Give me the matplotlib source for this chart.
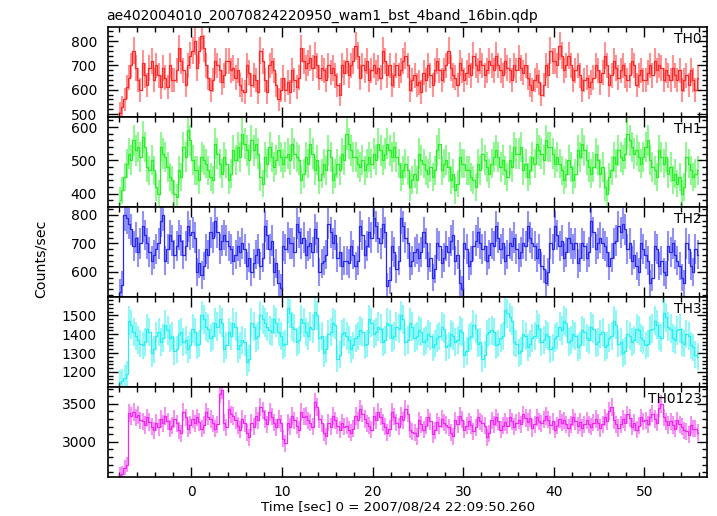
import numpy as np
import matplotlib
matplotlib.use("Agg")
import matplotlib.pyplot as plt
from matplotlib.ticker import MultipleLocator

plt.rcParams['font.family'] = ['DejaVu Sans']

title = "ae402004010_20070824220950_wam1_bst_4band_16bin.qdp"
xlabel = "Time [sec] 0 = 2007/08/24 22:09:50.260"
ylabel = "Counts/sec"
bin_size = 0.25
time = np.arange(-7.875, 56.0, bin_size)

th0 = [505, 530, 560, 610, 650, 700, 760, 690, 640, 600, 710, 660, 620, 690, 720, 640,
       700, 660, 610, 690, 650, 610, 700, 640, 640, 680, 770, 720, 680, 620, 700, 740,
       760, 800, 690, 760, 820, 770, 700, 650, 600, 640, 720, 700, 680, 630, 660, 720,
       720, 680, 690, 650, 680, 620, 600, 590, 700, 670, 620, 660, 640, 590, 760, 720,
       640, 590, 700, 720, 680, 620, 560, 600, 650, 600, 630, 590, 680, 640, 610, 650,
       770, 720, 690, 710, 730, 690, 740, 700, 650, 690, 680, 640, 700, 670, 690, 660,
       620, 580, 700, 670, 720, 660, 700, 720, 780, 740, 650, 700, 680, 720, 640, 680,
       700, 670, 690, 650, 760, 720, 660, 700, 620, 660, 700, 660, 680, 720, 740, 700,
       600, 640, 660, 620, 630, 590, 670, 640, 700, 660, 620, 680, 720, 680, 640, 680,
       700, 760, 690, 660, 650, 620, 710, 680, 640, 670, 700, 660, 740, 700, 680, 720,
       700, 660, 680, 720, 700, 680, 740, 700, 680, 660, 720, 690, 680, 640, 700, 680,
       730, 690, 670, 700, 650, 620, 600, 640, 660, 630, 580, 620, 700, 660, 760, 720,
       720, 700, 780, 740, 680, 700, 740, 700, 640, 680, 700, 660, 600, 640, 650, 610,
       630, 650, 700, 680, 630, 670, 740, 700, 620, 660, 720, 690, 650, 680, 700, 660,
       640, 660, 720, 700, 620, 660, 680, 640, 640, 670, 700, 660, 720, 680, 700, 690,
       640, 680, 660, 640, 690, 660, 640, 680, 600, 640, 660, 620, 680, 640, 600, 650]

th1 = [380, 410, 450, 490, 520, 500, 560, 530, 540, 510, 570, 540, 480, 470, 500, 470,
       420, 400, 540, 520, 510, 480, 450, 440, 400, 390, 470, 450, 540, 510, 590, 560,
       500, 470, 470, 440, 510, 500, 490, 470, 450, 440, 550, 520, 490, 460, 510, 490,
       440, 460, 530, 500, 540, 510, 580, 550, 530, 500, 560, 530, 550, 520, 450, 430,
       510, 490, 540, 510, 480, 500, 530, 510, 490, 510, 520, 500, 550, 520, 510, 500,
       440, 460, 510, 490, 550, 520, 470, 500, 440, 460, 490, 470, 530, 510, 440, 460,
       490, 470, 520, 500, 580, 550, 530, 510, 510, 490, 480, 500, 470, 490, 510, 490,
       520, 500, 550, 530, 500, 520, 550, 530, 510, 540, 510, 490, 450, 470, 490, 470,
       420, 440, 460, 440, 520, 500, 490, 470, 460, 480, 450, 470, 530, 550, 470, 490,
       500, 480, 440, 460, 410, 430, 510, 490, 490, 470, 470, 450, 440, 420, 490, 470,
       520, 500, 480, 460, 490, 510, 530, 510, 480, 500, 470, 450, 500, 480, 540, 520,
       520, 540, 470, 490, 450, 470, 510, 490, 550, 530, 520, 500, 560, 540, 540, 520,
       490, 510, 490, 470, 440, 460, 500, 480, 440, 460, 530, 510, 550, 530, 500, 480,
       460, 480, 520, 500, 460, 480, 420, 400, 450, 470, 510, 490, 530, 510, 500, 520,
       580, 560, 540, 520, 530, 510, 490, 510, 540, 560, 500, 480, 470, 450, 530, 510,
       490, 510, 460, 480, 440, 460, 430, 450, 400, 420, 510, 490, 470, 450, 460, 470]

th2 = [530, 555, 800, 790, 770, 750, 690, 720, 670, 700, 760, 730, 700, 670, 640, 660,
       680, 700, 780, 800, 640, 680, 730, 710, 660, 690, 730, 710, 660, 690, 760, 730,
       740, 720, 600, 630, 590, 620, 680, 660, 740, 720, 780, 740, 680, 710, 730, 710,
       690, 680, 640, 660, 690, 670, 700, 680, 620, 650, 600, 630, 660, 680, 620, 650,
       760, 730, 680, 710, 600, 630, 560, 545, 690, 680, 720, 700, 700, 670, 770, 740,
       700, 720, 660, 690, 700, 670, 750, 720, 600, 630, 640, 660, 770, 740, 700, 730,
       650, 670, 620, 640, 640, 630, 690, 660, 620, 640, 760, 730, 660, 690, 740, 720,
       790, 760, 720, 700, 770, 740, 550, 570, 690, 670, 610, 640, 790, 760, 720, 700,
       620, 640, 670, 680, 650, 670, 740, 700, 620, 650, 580, 610, 700, 690, 630, 650,
       690, 670, 710, 730, 640, 660, 560, 540, 700, 680, 620, 640, 690, 710, 740, 700,
       680, 690, 640, 660, 700, 690, 760, 720, 680, 700, 640, 660, 700, 690, 720, 680,
       650, 670, 700, 690, 760, 720, 700, 690, 650, 680, 620, 610, 560, 600, 700, 680,
       760, 730, 690, 710, 650, 670, 720, 700, 680, 700, 630, 650, 700, 690, 650, 670,
       780, 740, 680, 700, 720, 700, 690, 670, 620, 650, 700, 710, 760, 740, 770, 750,
       680, 700, 640, 660, 620, 600, 700, 680, 660, 640, 560, 580, 690, 680, 620, 640,
       600, 590, 690, 670, 700, 660, 640, 620, 580, 560, 700, 680, 620, 600, 680, 660]

th3 = [1140, 1150, 1170, 1190, 1470, 1450, 1410, 1390, 1370, 1350, 1340, 1360, 1430, 1410, 1300, 1320,
       1390, 1410, 1360, 1380, 1450, 1420, 1380, 1390, 1310, 1320, 1400, 1410, 1360, 1370, 1320, 1340,
       1430, 1410, 1340, 1350, 1500, 1480, 1440, 1430, 1380, 1390, 1460, 1440, 1480, 1460, 1320, 1340,
       1410, 1390, 1460, 1440, 1320, 1340, 1370, 1360, 1250, 1270, 1460, 1440, 1380, 1390, 1500, 1480,
       1460, 1440, 1420, 1410, 1480, 1460, 1410, 1390, 1340, 1350, 1540, 1510, 1440, 1430, 1360, 1370,
       1480, 1460, 1410, 1390, 1440, 1430, 1520, 1500, 1380, 1390, 1300, 1320, 1400, 1410, 1460, 1450,
       1270, 1290, 1400, 1410, 1390, 1370, 1320, 1340, 1380, 1390, 1420, 1410, 1340, 1350, 1480, 1460,
       1400, 1410, 1440, 1430, 1360, 1370, 1460, 1450, 1380, 1390, 1440, 1430, 1500, 1480, 1360, 1370,
       1460, 1440, 1380, 1390, 1420, 1410, 1360, 1370, 1400, 1390, 1330, 1350, 1380, 1390, 1440, 1430,
       1330, 1340, 1400, 1390, 1360, 1370, 1420, 1410, 1290, 1310, 1380, 1390, 1450, 1430, 1350, 1360,
       1270, 1290, 1400, 1410, 1420, 1410, 1340, 1350, 1380, 1390, 1530, 1510, 1490, 1470, 1360, 1350,
       1300, 1310, 1400, 1390, 1330, 1350, 1380, 1390, 1450, 1430, 1360, 1370, 1400, 1390, 1320, 1330,
       1380, 1390, 1440, 1420, 1470, 1460, 1360, 1370, 1400, 1390, 1330, 1340, 1420, 1410, 1380, 1370,
       1440, 1430, 1350, 1360, 1400, 1410, 1330, 1340, 1380, 1390, 1470, 1450, 1350, 1360, 1300, 1310,
       1400, 1390, 1360, 1370, 1430, 1420, 1380, 1370, 1340, 1350, 1420, 1430, 1470, 1450, 1390, 1380,
       1510, 1490, 1440, 1430, 1380, 1370, 1420, 1430, 1360, 1350, 1400, 1390, 1340, 1330, 1290, 1280]

th0123 = [2560, 2580, 2660, 2700, 3380, 3340, 3390, 3320, 3350, 3280, 3270, 3220, 3320, 3260, 3200, 3150,
          3250, 3190, 3300, 3240, 3340, 3270, 3170, 3210, 3300, 3240, 3150, 3110, 3390, 3320, 3170, 3220,
          3300, 3240, 3320, 3260, 3170, 3220, 3390, 3330, 3300, 3240, 3170, 3230, 3630, 3680, 3250, 3190,
          3430, 3360, 3340, 3280, 3210, 3160, 3300, 3240, 3120, 3060, 3250, 3200, 3340, 3280, 3460, 3410,
          3300, 3230, 3390, 3330, 3250, 3190, 3300, 3240, 3040, 2980, 3250, 3200, 3340, 3280, 3210, 3160,
          3390, 3330, 3340, 3280, 3250, 3200, 3520, 3460, 3300, 3240, 3120, 3070, 3250, 3200, 3340, 3280,
          3210, 3160, 3250, 3200, 3210, 3160, 3120, 3170, 3340, 3280, 3430, 3370, 3300, 3240, 3210, 3160,
          3340, 3280, 3390, 3330, 3250, 3200, 3120, 3170, 3390, 3330, 3250, 3200, 3340, 3280, 3430, 3370,
          3160, 3130, 3120, 3070, 3280, 3230, 3160, 3210, 3320, 3270, 3100, 3150, 3260, 3210, 3300, 3250,
          3220, 3190, 3120, 3070, 3280, 3230, 3340, 3290, 3160, 3210, 3270, 3220, 3140, 3190, 3320, 3270,
          3240, 3210, 3060, 3110, 3280, 3230, 3320, 3270, 3160, 3210, 3260, 3210, 3320, 3270, 3200, 3250,
          3280, 3230, 3360, 3310, 3260, 3310, 3180, 3230, 3320, 3270, 3240, 3290, 3340, 3290, 3220, 3270,
          3160, 3210, 3300, 3250, 3280, 3230, 3180, 3230, 3320, 3270, 3210, 3260, 3180, 3230, 3280, 3230,
          3200, 3250, 3300, 3250, 3180, 3230, 3320, 3270, 3400, 3460, 3280, 3230, 3180, 3230, 3300, 3250,
          3360, 3310, 3200, 3250, 3160, 3210, 3320, 3270, 3280, 3230, 3320, 3370, 3300, 3250, 3440, 3500,
          3320, 3270, 3220, 3270, 3220, 3170, 3280, 3230, 3200, 3150, 3140, 3090, 3220, 3170, 3170, 3120]

series = [th0, th1, th2, th3, th0123]
names = ["TH0", "TH1", "TH2", "TH3", "TH0123"]
colors = ["#ff2828", "#28f028", "#2828f0", "#28f0f0", "#f028f0"]
ylims = [(488, 858), (360, 630), (512, 828), (1120, 1597), (2536, 3720)]
ymajor = [100, 100, 100, 100, 500]
yminor = [20, 20, 20, 20, 100]

W, H = 717, 516
fig = plt.figure(figsize=(W / 100, H / 100), dpi=100)
left, right = 108 / W, 707 / W
top_px, panel_h = 27, 90

for i, (vals, name, col) in enumerate(zip(series, names, colors)):
    y0 = 1 - (top_px + (i + 1) * panel_h) / H
    ax = fig.add_axes([left, y0, right - left, panel_h / H])
    v = np.array(vals, dtype=float)
    err = np.sqrt(v * bin_size) / bin_size
    ax.errorbar(time, v, yerr=err, fmt='none', ecolor=col, alpha=0.5, elinewidth=1.5, capsize=0)
    ax.step(time, v, where='mid', color=col, lw=0.9)
    ax.set_xlim(-9.2, 56.9)
    ax.set_ylim(*ylims[i])
    ax.xaxis.set_major_locator(MultipleLocator(10))
    ax.xaxis.set_minor_locator(MultipleLocator(2))
    ax.yaxis.set_major_locator(MultipleLocator(ymajor[i]))
    ax.yaxis.set_minor_locator(MultipleLocator(yminor[i]))
    ax.tick_params(which='both', direction='in', top=True, right=True, labelsize=10, width=1.0)
    ax.tick_params(which='major', length=7)
    ax.tick_params(which='minor', length=3.5)
    ax.tick_params(axis='y', pad=8)
    ax.tick_params(axis='x', pad=6)
    for s in ax.spines.values():
        s.set_linewidth(1.2)
    ax.text(1 - 5 / 599, 1 - 5 / 90, name, transform=ax.transAxes, ha='right', va='top', fontsize=10)
    if i < 4:
        ax.tick_params(labelbottom=False)

fig.text(106 / W, 1 - 20 / H, title, ha='left', va='baseline', fontsize=10)
fig.text(398 / W, 1 - 511 / H, xlabel, ha='center', va='baseline', fontsize=9.6)
fig.text(41 / W, 1 - 259 / H, ylabel, rotation=90, ha='center', va='center', fontsize=10.2)

fig.savefig("out.png", dpi=100)
